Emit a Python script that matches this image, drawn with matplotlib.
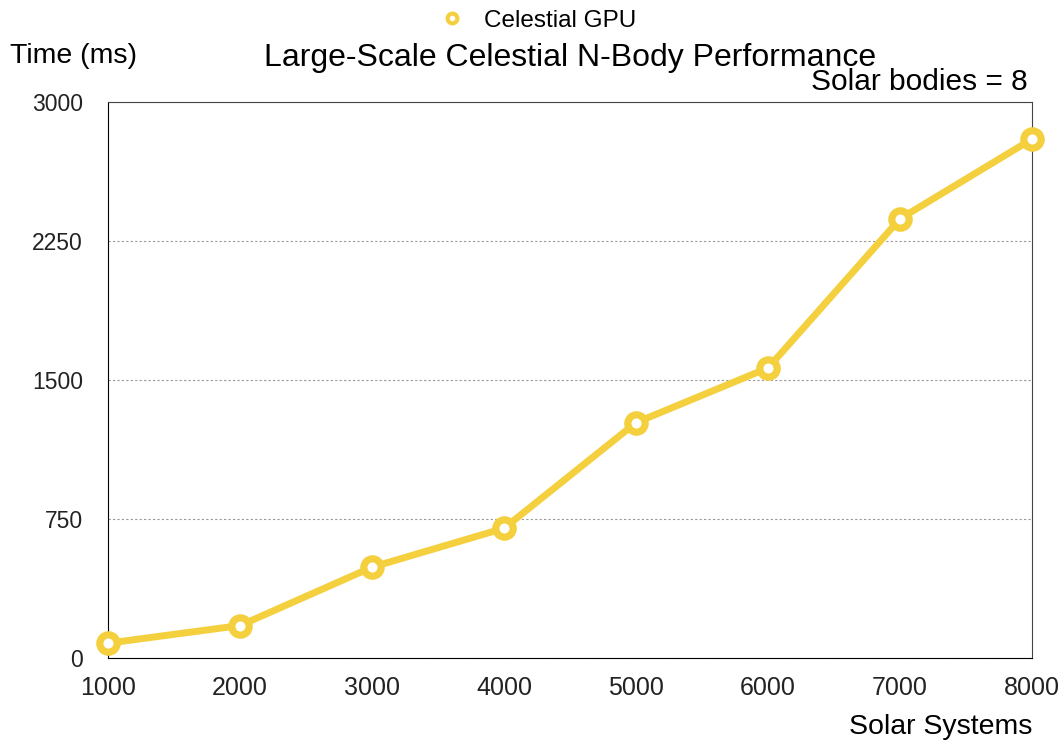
import matplotlib
matplotlib.use('Agg')
import matplotlib.pyplot as plt
from matplotlib.lines import Line2D

plt.rcParams['font.family'] = ['Liberation Sans', 'DejaVu Sans']

# systems vs. time
systems = [1000, 2000, 3000, 4000, 5000, 6000, 7000, 8000]
gpu_ms = [80, 175, 490, 700, 1270, 1565, 2370, 2800]
yticks = [0, 750, 1500, 2250, 3000]

yellow = '#F4D03F'

fig = plt.figure(figsize=(10.64, 7.45), dpi=100)
ax = fig.add_axes([0.1015, 0.1168, 0.8685, 0.7463])

ax.plot(systems, gpu_ms, color=yellow, lw=5, marker='o', ms=12.5,
        mfc='white', mec=yellow, mew=5.2, clip_on=False, zorder=3)

ax.set_xlim(1000, 8000)
ax.set_ylim(0, 3000)
ax.set_xticks(systems)
ax.set_yticks(yticks)
ax.tick_params(length=0, colors='#222222')
ax.tick_params(axis='x', pad=13, labelsize=18)
ax.tick_params(axis='y', pad=18, labelsize=16.5)
ax.grid(axis='y', color='#999999', ls=(0, (2, 2)), lw=0.8)
for s in ['top', 'right']:
    ax.spines[s].set_color('#444444')

ax.set_title('Large-Scale Celestial N-Body Performance', fontsize=23, pad=26)
fig.text(0.009, 0.925, 'Time (ms)', fontsize=20.5, va='center')
ax.text(0.995, 1.01, 'Solar bodies = 8', transform=ax.transAxes,
        ha='right', va='bottom', fontsize=21.5)
ax.set_xlabel('Solar Systems', fontsize=20.5, loc='right', labelpad=10)

h = Line2D([], [], color=yellow, lw=0, marker='o', ms=7, mfc='white',
           mec=yellow, mew=3)
fig.legend([h], ['Celestial GPU'], loc='center', bbox_to_anchor=(0.5, 0.972),
           frameon=False, fontsize=17.5, handletextpad=0.3)

fig.savefig('out.png', dpi=100)
